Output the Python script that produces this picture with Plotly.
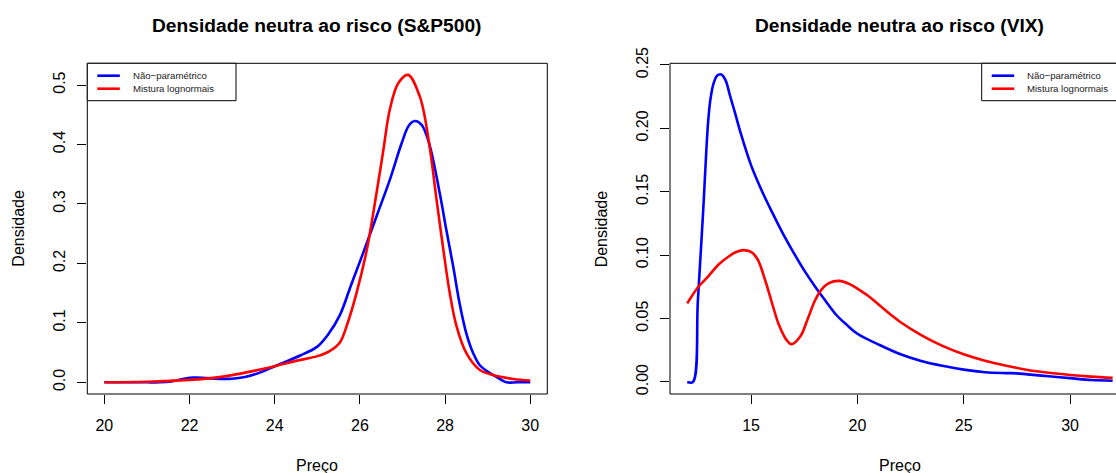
import plotly.graph_objects as go

W, H = 1116, 473

# ---------------- data: S&P500 panel ----------------
sp_np_x = [20.0, 20.5, 21.0, 21.3, 21.6, 21.9, 22.1, 22.4, 22.7, 23.0, 23.3, 23.6, 24.0, 24.3,
           24.6, 25.0, 25.25, 25.53, 25.8, 26.1, 26.4, 26.7, 26.98, 27.15, 27.29, 27.45, 27.625,
           27.875, 28.03, 28.19, 28.34, 28.5, 28.66, 28.81, 29.0, 29.125, 29.3, 29.44, 29.7, 30.0]
sp_np_y = [0.0, 0.0, 0.0, 0.0, 0.002, 0.0065, 0.008, 0.007, 0.0058, 0.006, 0.009, 0.015, 0.027, 0.036,
           0.045, 0.06, 0.08, 0.113, 0.165, 0.222, 0.281, 0.34, 0.402, 0.432, 0.4395, 0.433, 0.402,
           0.318, 0.256, 0.195, 0.133, 0.082, 0.049, 0.029, 0.018, 0.0123, 0.005, 0.0, 0.0, 0.0]

sp_mix_x = [20.0, 21.0, 22.0, 22.5, 23.0, 23.5, 24.0, 24.5, 25.0, 25.3, 25.53, 25.7, 25.92, 26.16,
            26.39, 26.55, 26.7, 26.9, 27.13, 27.41, 27.625, 27.8, 27.95, 28.11, 28.27, 28.5, 28.81,
            29.125, 29.6, 30.0]
sp_mix_y = [0.0, 0.001, 0.004, 0.007, 0.012, 0.019, 0.027, 0.036, 0.044, 0.053, 0.067, 0.097, 0.15, 0.222,
            0.318, 0.39, 0.458, 0.503, 0.517, 0.48, 0.402, 0.307, 0.228, 0.15, 0.094, 0.049, 0.021,
            0.0123, 0.0056, 0.003]

# ---------------- data: VIX panel ----------------
vix_np_x = [12.0, 12.27, 12.5, 12.75, 12.98, 13.1, 13.25, 13.4, 13.6, 13.8, 14.0, 14.25, 14.5, 15.0,
            15.5, 16.0, 16.5, 17.0, 17.5, 18.0, 18.5, 19.0, 19.5, 20.0, 21.0, 22.0, 23.0, 24.0, 25.0,
            26.0, 27.0, 27.5, 28.0, 29.0, 30.0, 31.0, 32.0]
vix_np_y = [0.0, 0.0, 0.064, 0.135, 0.2045, 0.224, 0.236, 0.2415, 0.2425, 0.238, 0.2265, 0.212, 0.197,
            0.171, 0.151, 0.1335, 0.117, 0.102, 0.088, 0.0755, 0.064, 0.053, 0.045, 0.038, 0.0295, 0.022,
            0.0165, 0.0127, 0.0097, 0.0077, 0.007, 0.0068, 0.006, 0.0045, 0.003, 0.0015, 0.001]

vix_mix_x = [12.0, 12.5, 13.0, 13.5, 14.0, 14.3, 14.65, 15.0, 15.3, 15.65, 15.98, 16.3, 16.65, 16.9,
             17.32, 17.65, 18.0, 18.32, 18.66, 19.15, 19.66, 20.0, 20.5, 21.0, 21.5, 22.0, 23.0, 24.0,
             25.0, 26.0, 27.0, 28.0, 29.0, 30.0, 31.0, 32.0]
vix_mix_y = [0.062, 0.0745, 0.0835, 0.093, 0.0995, 0.1025, 0.104, 0.1025, 0.097, 0.081, 0.0626, 0.0455,
             0.0336, 0.0297, 0.036, 0.049, 0.064, 0.073, 0.078, 0.0797, 0.077, 0.0736, 0.068, 0.061,
             0.054, 0.0475, 0.037, 0.0285, 0.0218, 0.0167, 0.0128, 0.0095, 0.0072, 0.0055, 0.0042, 0.0032]

sp_xticks = [20, 22, 24, 26, 28, 30]
sp_yticks = [0.0, 0.1, 0.2, 0.3, 0.4, 0.5]
vix_xticks = [15, 20, 25, 30]
vix_yticks = [0.0, 0.05, 0.10, 0.15, 0.20, 0.25]

titles = ["Densidade neutra ao risco (S&P500)", "Densidade neutra ao risco (VIX)"]
series_names = ["Não\u2212paramétrico", "Mistura lognormais"]
xlab = "Preço"
ylab = "Densidade"

BLUE = "#0000ff"
RED = "#ff0000"
FONT = "Liberation Sans, Arial, Helvetica, sans-serif"

# ---------------- geometry (pixels) ----------------
L1, R1 = 87.3, 547.3
L2 = 670.0
R2 = 1129.6
TOP, BOT = 63.3, 394.0


def px(x):
    return x / W


def py(y):
    return 1 - y / H


fig = go.Figure()
LW = 2.6
SM = 1.0
panels = [
    ("x", "y", sp_np_x, sp_np_y, sp_mix_x, sp_mix_y),
    ("x2", "y2", vix_np_x, vix_np_y, vix_mix_x, vix_mix_y),
]
for xa, ya, nx, ny, mx, my in panels:
    fig.add_trace(go.Scatter(x=nx, y=ny, mode="lines", name=series_names[0],
                             line=dict(color=BLUE, width=LW, shape="spline", smoothing=SM),
                             xaxis=xa, yaxis=ya, showlegend=False))
    fig.add_trace(go.Scatter(x=mx, y=my, mode="lines", name=series_names[1],
                             line=dict(color=RED, width=LW, shape="spline", smoothing=SM),
                             xaxis=xa, yaxis=ya, showlegend=False))

px_per_unit_vix = 21.27
vix_xmin = 11.19
vix_xmax = vix_xmin + (W - L2) / px_per_unit_vix

axis_common = dict(showgrid=False, zeroline=False, showline=False, ticks="outside", ticklen=9,
                   tickwidth=1, tickcolor="black", automargin=False,
                   tickfont=dict(family=FONT, size=16, color="black"))

fig.update_layout(
    width=W, height=H, margin=dict(l=0, r=0, t=0, b=0, autoexpand=False),
    paper_bgcolor="white", plot_bgcolor="white",
    font=dict(family=FONT, color="black"),
    showlegend=False,
    xaxis=dict(domain=[px(L1), px(R1)], range=[19.6, 30.4], tickvals=sp_xticks, anchor="y",
               ticklabelstandoff=8, **axis_common),
    yaxis=dict(domain=[py(BOT), py(TOP)], range=[-0.0197, 0.5365], tickvals=sp_yticks,
               tickformat=".1f", tickangle=-90, anchor="x", ticklabelstandoff=6, **axis_common),
    xaxis2=dict(domain=[px(L2), 1.0], range=[vix_xmin, vix_xmax], tickvals=vix_xticks, anchor="y2",
                ticklabelstandoff=8, **axis_common),
    yaxis2=dict(domain=[py(BOT), py(TOP)], range=[-0.0095, 0.2513], tickvals=vix_yticks,
                tickformat=".2f", tickangle=-90, anchor="x2", ticklabelstandoff=6, **axis_common),
)

# plot boxes (R bty="o"); right panel extends beyond the window
fig.add_shape(type="rect", xref="paper", yref="paper", x0=px(L1), x1=px(R1), y0=py(BOT), y1=py(TOP),
              line=dict(color="black", width=1), layer="above")
fig.add_shape(type="rect", xref="paper", yref="paper", x0=px(L2), x1=px(W + 20), y0=py(BOT), y1=py(TOP),
              line=dict(color="black", width=1), layer="above")

# legends (R-style boxed legend)
legend_specs = [(L1, 236.0), (981.7, W + 20)]
for lx0, lx1 in legend_specs:
    fig.add_shape(type="rect", xref="paper", yref="paper", x0=px(lx0), x1=px(lx1),
                  y0=py(100.7), y1=py(TOP), fillcolor="white",
                  line=dict(color="black", width=1), layer="above")
    for i, (nm, col) in enumerate(zip(series_names, [BLUE, RED])):
        yy = 75.7 + 13.0 * i
        fig.add_shape(type="line", xref="paper", yref="paper", x0=px(lx0 + 10), x1=px(lx0 + 32.5),
                      y0=py(yy), y1=py(yy), line=dict(color=col, width=LW), layer="above")
        fig.add_annotation(x=px(lx0 + 43.3), y=py(yy), xref="paper", yref="paper", text=nm,
                           showarrow=False, xanchor="left", yanchor="middle",
                           font=dict(family=FONT, size=9.6, color="#222222"))

# titles and axis labels
cx1 = (L1 + R1) / 2
cx2 = (L2 + R2) / 2
for cx, t in [(cx1, titles[0]), (cx2, titles[1])]:
    fig.add_annotation(x=px(cx), y=py(25), xref="paper", yref="paper", text=f"<b>{t}</b>",
                       showarrow=False, xanchor="center", yanchor="middle",
                       font=dict(family=FONT, size=19.2, color="black"))
    fig.add_annotation(x=px(cx), y=py(465), xref="paper", yref="paper", text=xlab,
                       showarrow=False, xanchor="center", yanchor="middle",
                       font=dict(family=FONT, size=16, color="black"))
for lx in [L1 - 68.3, L2 - 68.3]:
    fig.add_annotation(x=px(lx), y=py((TOP + BOT) / 2), xref="paper", yref="paper", text=ylab,
                       showarrow=False, textangle=-90, xanchor="center", yanchor="middle",
                       font=dict(family=FONT, size=16, color="black"))

fig.write_html("out.html")
